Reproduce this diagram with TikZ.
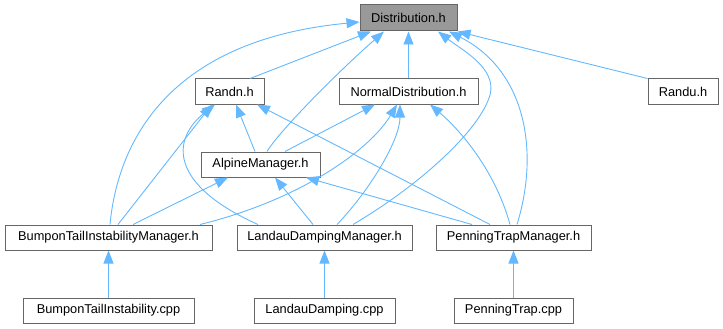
\documentclass[tikz,border=0pt]{standalone}
\usepackage{fontspec}
\setmainfont{Liberation Sans}
\usetikzlibrary{arrows.meta}
\definecolor{edgeblue}{HTML}{63B8FF}
\definecolor{boxline}{HTML}{666666}
\definecolor{mainfill}{HTML}{999999}
\begin{document}
\begin{tikzpicture}[x=1pt,y=-1pt,
	box/.style={draw=boxline,fill=white,line width=1pt,minimum height=25pt,inner sep=0pt,font=\fontsize{12.8}{15}\selectfont},
	dep/.style={draw=edgeblue,line width=0.9pt,-{Triangle[length=13pt,width=10pt]}}]
	\useasboundingbox (0,0) rectangle (723,329);
	% headers and sources, one row per level
	\node[box,fill=mainfill,minimum width=97pt,minimum height=26pt] (dist) at (408.5,18) {Distribution.h};
	\node[box,minimum width=69pt] (randn) at (229.5,91.5) {Randn.h};
	\node[box,minimum width=139pt] (normal) at (408.5,91.5) {NormalDistribution.h};
	\node[box,minimum width=70pt] (randu) at (683,91.5) {Randu.h};
	\node[box,minimum width=119pt] (alpine) at (260.5,164.5) {AlpineManager.h};
	\node[box,minimum width=207pt] (btim) at (108.5,237.5) {BumponTailInstabilityManager.h};
	\node[box,minimum width=175pt] (ldm) at (324.5,237.5) {LandauDampingManager.h};
	\node[box,minimum width=155pt] (ptm) at (513.5,237.5) {PenningTrapManager.h};
	\node[box,minimum width=171pt] (btic) at (108.5,310.5) {BumponTailInstability.cpp};
	\node[box,minimum width=141pt] (ldc) at (324.5,310.5) {LandauDamping.cpp};
	\node[box,minimum width=119pt] (ptc) at (513.5,310.5) {PenningTrap.cpp};
	% includes of Distribution.h
	\draw[dep] ([xshift=20.5pt]randn.north) to ([xshift=-37.5pt]dist.south);
	\draw[dep] (normal) to (dist);
	\draw[dep] (randu.north west) to (dist.south east);
	\draw[dep] ([xshift=1.5pt]btim.north) .. controls (118,140) and (170,40) .. ([yshift=-4pt]dist.west);
	\draw[dep] ([xshift=6.5pt]alpine.north) .. controls (280,130) and (340,70) .. ([xshift=-24.5pt]dist.south);
	\draw[dep] ([xshift=28.5pt]ldm.north) .. controls (420,185) and (480,130) .. (490,95)
		.. controls (497,68) and (462,50) .. ([xshift=29.5pt]dist.south);
	\draw[dep] ([xshift=3.5pt]ptm.north) .. controls (540,150) and (525,70) .. ([xshift=40.5pt]dist.south);
	% includes of Randn.h
	\draw[dep] ([xshift=-5.5pt]alpine.north) to ([xshift=6.5pt]randn.south);
	\draw[dep] ([xshift=9.5pt]btim.north) to ([xshift=-17.5pt]randn.south);
	\draw[dep] ([xshift=-66.5pt]ldm.north) .. controls (170,185) and (170,140) .. ([xshift=-14.5pt]randn.south);
	\draw[dep] ([xshift=-23.5pt]ptm.north) to ([xshift=27.5pt]randn.south);
	% includes of NormalDistribution.h
	\draw[dep] ([xshift=24.5pt]alpine.north) to ([xshift=-33.5pt]normal.south);
	\draw[dep] ([xshift=91.5pt]btim.north) .. controls (300,200) and (370,150) .. ([xshift=-11.5pt]normal.south);
	\draw[dep] ([xshift=12.5pt]ldm.north) .. controls (370,190) and (400,140) .. ([xshift=-8.5pt]normal.south);
	\draw[dep] ([xshift=-3.5pt]ptm.north) .. controls (495,170) and (460,130) .. ([xshift=21.5pt]normal.south);
	% includes of AlpineManager.h
	\draw[dep] ([xshift=24.5pt]btim.north) to ([xshift=-32.5pt]alpine.south);
	\draw[dep] ([xshift=-11.5pt]ldm.north) to ([xshift=14.5pt]alpine.south);
	\draw[dep] ([xshift=-41.5pt]ptm.north) to ([xshift=45.5pt]alpine.south);
	% sources
	\draw[dep] (btic) to (btim);
	\draw[dep] (ldc) to (ldm);
	\draw[dep] (ptc) to (ptm);
\end{tikzpicture}
\end{document}
